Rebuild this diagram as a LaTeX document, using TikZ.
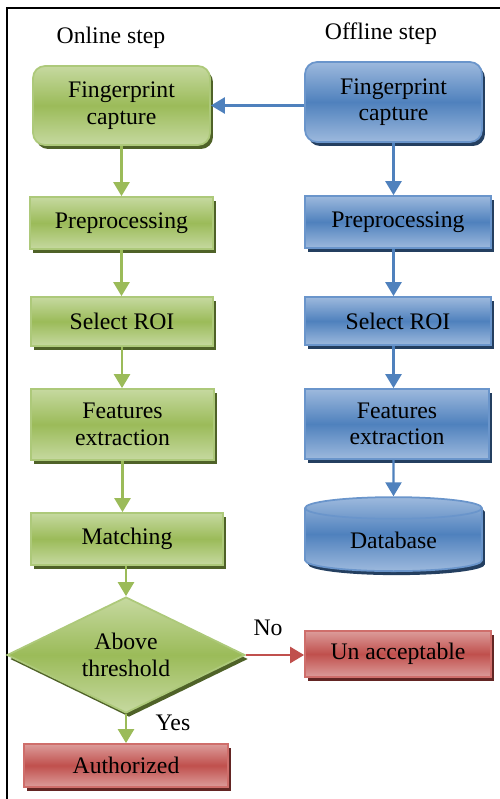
\documentclass[tikz,border=0pt]{standalone}
\usepackage{fontspec}
\setmainfont{Liberation Serif}
\usetikzlibrary{shapes.geometric, shadows, arrows.meta}

\definecolor{greenfill}{HTML}{9BBB59}
\definecolor{greenlight}{HTML}{C6D9A0}
\definecolor{greenrim}{HTML}{ADC97A}
\definecolor{greendark}{HTML}{4F6228}
\definecolor{bluefill}{HTML}{4F81BD}
\definecolor{bluelight}{HTML}{9DB9DD}
\definecolor{bluerim}{HTML}{6A95CB}
\definecolor{bluedark}{HTML}{243F60}
\definecolor{redfill}{HTML}{C0504D}
\definecolor{redlight}{HTML}{DC9C9A}
\definecolor{redrim}{HTML}{CF6E6B}
\definecolor{reddark}{HTML}{632523}

\begin{document}
\begin{tikzpicture}[x=0.02cm, y=-0.02cm,
		base/.style={font=\fontsize{13.5}{15}\selectfont, align=center, inner sep=0pt, line width=1pt},
		gbox/.style={base, draw=greenrim, top color=greenlight, bottom color=greenlight, middle color=greenfill,
			drop shadow={shadow xshift=0.06cm, shadow yshift=-0.08cm, fill=greendark, opacity=1}},
		bbox/.style={base, draw=bluerim, top color=bluelight, bottom color=bluelight, middle color=bluefill,
			drop shadow={shadow xshift=0.06cm, shadow yshift=-0.08cm, fill=bluedark, opacity=1}},
		rbox/.style={base, draw=redrim, top color=redlight, bottom color=redlight, middle color=redfill,
			drop shadow={shadow xshift=0.06cm, shadow yshift=-0.08cm, fill=reddark, opacity=1}},
		garrow/.style={draw=greenfill, line width=1.4pt, -{Triangle[width=0.32cm, length=0.28cm]}},
		barrow/.style={draw=bluefill, line width=1.4pt, -{Triangle[width=0.32cm, length=0.28cm]}},
		rarrow/.style={draw=redfill, line width=1.4pt, -{Triangle[width=0.32cm, length=0.28cm]}}]
			\useasboundingbox (0,0) rectangle (500,799);
			
			% Frame
			\draw[line width=1.1pt] (7,799) -- (7,8) -- (500,8);
			
			% Titles
			\node[base] (online) at (111,38) {Online step};
			\node[base] (offline) at (381,34) {Offline step};
			
			% Online step
			\node[gbox, rounded corners=0.24cm, minimum width=3.54cm, minimum height=1.58cm] (gcap) at (121.5,105.5) {Fingerprint\\capture};
			\node[gbox, minimum width=3.66cm, minimum height=1.04cm] (gpre) at (121.5,223) {Preprocessing};
			\node[gbox, minimum width=3.64cm, minimum height=0.98cm] (groi) at (122,321.5) {Select ROI};
			\node[gbox, minimum width=3.66cm, minimum height=1.42cm] (gfeat) at (122.5,424.5) {Features\\extraction};
			\node[gbox, minimum width=3.84cm, minimum height=1.04cm] (gmatch) at (127,539) {Matching};
			\node[gbox, diamond, aspect=2.05, minimum width=4.76cm, minimum height=2.32cm] (dec) at (126,655) {Above\\threshold};
			\node[rbox, minimum width=4.08cm, minimum height=0.86cm] (auth) at (126,765.5) {Authorized};
			
			% Offline step
			\node[bbox, rounded corners=0.24cm, minimum width=3.54cm, minimum height=1.6cm] (bcap) at (393.5,102) {Fingerprint\\capture};
			\node[bbox, minimum width=3.72cm, minimum height=1.04cm] (bpre) at (398,222) {Preprocessing};
			\node[bbox, minimum width=3.72cm, minimum height=0.96cm] (broi) at (398,321) {Select ROI};
			\node[bbox, minimum width=3.68cm, minimum height=1.4cm] (bfeat) at (397,424) {Features\\extraction};
			\node[bbox, cylinder, shape border rotate=90, aspect=0.25, minimum width=3.54cm, minimum height=1.48cm] (db) at (393.5,540) {Database};
			\node[rbox, minimum width=3.72cm, minimum height=0.92cm] (unacc) at (398,654) {Un acceptable};
			
			% Arrows
			\draw[garrow] (gcap) -- (gcap |- gpre.north);
			\draw[garrow] (gpre) -- (gpre |- groi.north);
			\draw[garrow] (groi) -- (groi |- gfeat.north);
			\draw[garrow] (gfeat) -- (gfeat |- gmatch.north);
			\draw[garrow] (dec |- gmatch.south) -- (dec.north);
			\draw[garrow] (dec.south) -- (dec |- auth.north);
			\draw[barrow] (bcap.west |- gcap.east) -- (gcap.east);
			\draw[barrow] (bcap) -- (bcap |- bpre.north);
			\draw[barrow] (bcap |- bpre.south) -- (bcap |- broi.north);
			\draw[barrow] (bcap |- broi.south) -- (bcap |- bfeat.north);
			\draw[barrow] (bcap |- bfeat.south) -- (db.north);
			\draw[rarrow] (dec.east) -- (dec.east -| unacc.west);
			
			% Labels
			\node[base] (no) at (268,628) {No};
			\node[base] (yes) at (173,723) {Yes};
			
		\end{tikzpicture}
\end{document}
